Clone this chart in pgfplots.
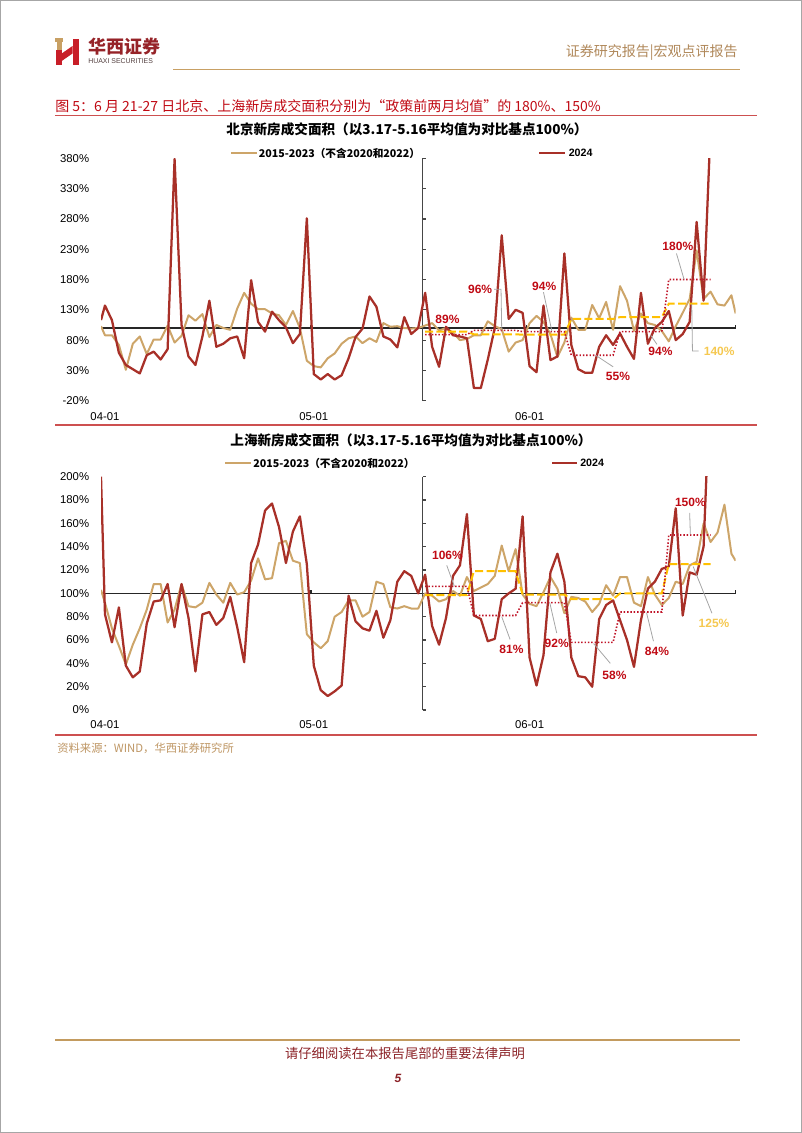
\documentclass[border=0pt]{standalone}
\usepackage{fontspec}
\usepackage{pgfplots}
\pgfplotsset{compat=1.18}
\setmainfont{Liberation Sans}
\newfontfamily\cjk{Noto Sans CJK SC}

\definecolor{cRed}{RGB}{168,48,40}
\definecolor{cTan}{RGB}{205,165,105}
\definecolor{cGold}{RGB}{255,192,0}
\definecolor{cDot}{RGB}{192,20,40}
\definecolor{cLab}{RGB}{192,10,20}
\definecolor{cLabY}{RGB}{245,200,80}
\definecolor{cLead}{RGB}{165,165,165}
\definecolor{cHead}{RGB}{176,136,90}
\definecolor{cLine}{RGB}{200,160,100}
\definecolor{cSep}{RGB}{205,80,80}
\definecolor{cFoot}{RGB}{140,35,40}
\definecolor{cLogo}{RGB}{200,30,40}
\definecolor{cAx}{RGB}{70,70,70}
\definecolor{cBrand}{RGB}{150,35,40}
\definecolor{cHx}{RGB}{80,60,60}
\definecolor{cSrc}{RGB}{190,150,100}
\definecolor{cFootLine}{RGB}{195,155,95}

\tikzset{
  tanline/.style={draw=cTan, line width=1.5pt, line join=round},
  redline/.style={draw=cRed, line width=1.7pt, line join=round},
  dotline/.style={draw=cDot, line width=1.2pt, dash pattern=on 1.1pt off 1.4pt},
  dashline/.style={draw=cGold, line width=1.5pt, dash pattern=on 6pt off 2.5pt},
  lab/.style={font=\fontsize{9}{10}\selectfont\bfseries, text=cLab, inner sep=0pt},
  labY/.style={font=\fontsize{9}{10}\selectfont\bfseries, text=cLabY, inner sep=0pt},
  lead/.style={draw=cLead, line width=0.6pt},
}
\pgfplotsset{
  chartbase/.style={
    scale only axis, width=475.95pt, xmin=-0.57, xmax=90.6,
    axis line style={draw=none}, major tick length=0pt,
    xtick={0,30,61}, xticklabels={04-01,05-01,06-01},
    ticklabel style={font=\fontsize{8.5}{10}\selectfont},
    /pgf/number format/assume math mode=true,
    clip mode=individual,
    yticklabel={\pgfmathprintnumber{\tick}\%},
    yticklabel style={xshift=-5.4pt},
  },
}

\begin{document}
\begin{tikzpicture}
\path[use as bounding box] (0,0) rectangle (601.5pt,-849.75pt);
\begin{scope}[x=0.75pt,y=-0.75pt, every node/.style={inner sep=0pt}]
  % page frame
  \draw[gray!70, line width=0.8pt] (0.6,0.6) rectangle (801.4,1132.4);
  % logo
  \fill[cLine] (55,38) rectangle (63,41.5);
  \fill[cLine] (57,41.5) rectangle (61.5,50);
  \fill[cLogo] (56,50) rectangle (62,65);
  \fill[cLogo] (72.5,39) rectangle (79,65);
  \fill[cLogo] (61,54) -- (72.5,46) -- (72.5,53.5) -- (61,61.5) -- cycle;
  \node[anchor=west, text=cBrand] at (88,47) {\cjk\bfseries\fontsize{13.5}{15}\selectfont 华西证券};
  \node[anchor=west, text=cHx] at (88,61.5) {\fontsize{5.2}{6}\selectfont HUAXI SECURITIES};
  \node[anchor=east, text=cHead] at (738,53) {\cjk\fontsize{10.5}{12}\selectfont 证券研究报告|宏观点评报告};
  \draw[cLine, line width=1.3pt] (173,69.5) -- (740,69.5);
  % figure title
  \node[anchor=west, text=cLab] at (55,106.5) {\cjk\fontsize{10.5}{12}\selectfont 图 5：6 月 21-27 日北京、上海新房成交面积分别为“政策前两月均值”的 180\%、150\%};
  \draw[cSep, line width=0.8pt] (55,115.7) -- (757,115.7);
  % chart 1 title & legend
  \node at (407,129) {\cjk\bfseries\fontsize{10.2}{12}\selectfont 北京新房成交面积（以3.17-5.16平均值为对比基点100\%）};
  \draw[cTan, line width=1.5pt] (231,153.3) -- (257,153.3);
  \node[anchor=west] at (258.5,153.3) {\cjk\bfseries\fontsize{8}{9}\selectfont 2015-2023（不含2020和2022）};
  \draw[cRed, line width=1.7pt] (539,153.3) -- (565,153.3);
  \node[anchor=west] at (568.5,153.3) {\bfseries\fontsize{8}{9}\selectfont 2024};
  % separator
  \draw[cSep, line width=0.8pt] (55,425) -- (757,425);
  % chart 2 title & legend
  \node at (411,440.7) {\cjk\bfseries\fontsize{10.2}{12}\selectfont 上海新房成交面积（以3.17-5.16平均值为对比基点100\%）};
  \draw[cTan, line width=1.5pt] (225,463) -- (251,463);
  \node[anchor=west] at (253,463) {\cjk\bfseries\fontsize{8}{9}\selectfont 2015-2023（不含2020和2022）};
  \draw[cRed, line width=1.7pt] (552,463) -- (577,463);
  \node[anchor=west] at (580,463) {\bfseries\fontsize{8}{9}\selectfont 2024};
  % bottom separator & source
  \draw[cSep, line width=0.8pt] (55,735) -- (757,735);
  \node[anchor=west, text=cSrc] at (57,748.5) {\cjk\fontsize{8.5}{10}\selectfont 资料来源：WIND，华西证券研究所};
  % footer
  \draw[cFootLine, line width=2pt] (55,1040) -- (740,1040);
  \node[text=cFoot] at (405,1053) {\cjk\fontsize{10}{12}\selectfont 请仔细阅读在本报告尾部的重要法律声明};
  \node[text=cFoot] at (398,1078) {\bfseries\itshape\fontsize{9}{10}\selectfont 5};
\end{scope}

% ================= Beijing =================
\begin{axis}[chartbase, at={(75.75pt,-300.525pt)}, anchor=south west,
  height=181.8pt, ymin=-20, ymax=380, ytick={-20,30,...,380},
  xticklabel style={yshift=-5.6pt}]
\draw[black!85, line width=0.8pt] (axis cs:-0.57,100) -- (axis cs:90.6,100);
\draw[black!85, line width=0.8pt] (axis cs:29.6,100) -- ++(0pt,2.2pt);
\draw[black!85, line width=0.8pt] (axis cs:60.6,100) -- ++(0pt,2.2pt);
\draw[black!85, line width=0.8pt] (axis cs:90.6,100) -- ++(0pt,2.2pt);
\draw[cAx, line width=1pt] (axis cs:45.65,-20) -- (axis cs:45.65,380);
\pgfplotsinvokeforeach{-20,30,80,130,180,230,280,330,380}{
  \draw[cAx, line width=0.9pt] (axis cs:45.65,#1) -- ++(2.2pt,0pt);}
\addplot[tanline] coordinates {(-0.57,103)(0,88)(1,88)(2,72)(3,31)(4,74)(5,86)(6,57)(7,81)(8,81)(9,104)(10,76)(11,87)(12,121)(13,112)(14,123)(15,85)(16,105)(17,100)(18,97)(19,132)(20,158)(21,140)(22,131)(23,131)(24,124)(25,121)(26,105)(27,128)(28,100)(29,46)(30,37)(31,35)(32,50)(33,58)(34,74)(35,83)(36,86)(37,75)(38,83)(39,77)(40,108)(41,102)(42,103)(43,100)(44,99)(45,100)(46,104)(47,108)(48,96)(49,100)(50,92)(51,80)(52,82)(53,88)(54,88)(55,111)(56,103)(57,98)(58,61)(59,76)(60,80)(61,108)(62,120)(63,110)(64,90)(65,52)(66,76)(67,117)(68,97)(69,97)(70,138)(71,116)(72,143)(73,97)(74,169)(75,145)(76,95)(77,124)(78,108)(79,105)(80,95)(81,78)(82,103)(83,125)(84,148)(85,228)(86,148)(87,160)(88,139)(89,137)(90,154)(90.6,124)};
\addplot[redline] coordinates {(-0.57,113)(0,137)(1,113)(2,59)(3,39)(4,32)(5,25)(6,55)(7,61)(8,48)(9,65)(10,379)(11,105)(12,53)(13,39)(14,86)(15,145)(16,69)(17,74)(18,83)(19,86)(20,50)(21,179)(22,110)(23,94)(24,127)(25,113)(26,101)(27,75)(28,90)(29,281)(30,24)(31,15)(32,24)(33,15)(34,22)(35,50)(36,85)(37,99)(38,152)(39,135)(40,86)(41,81)(42,68)(43,118)(44,90)(45,100)(46,158)(47,69)(48,36)(49,102)(50,88)(51,86)(52,83)(53,1)(54,1)(55,48)(56,100)(57,253)(58,115)(59,130)(60,125)(61,37)(62,27)(63,137)(64,47)(65,53)(66,223)(67,72)(68,32)(69,26)(70,26)(71,69)(72,88)(73,72)(74,91)(75,69)(76,49)(77,158)(78,74)(79,100)(80,110)(81,128)(82,80)(83,90)(84,110)(85,275)(86,145)(87,430)};
\addplot[dashline] coordinates {(46,94)(52,94)(53,89.5)(59,89.5)(60,89)(66,89)(67,115)(73,115)(74,118)(80,118)(81,140)(87,140)};
\addplot[dotline] coordinates {(46,89)(52,89)(53,96)(59,96)(60,94)(66,94)(67,55)(73,55)(74,94)(80,94)(81,180)(87,180)};
% labels
\node[lab] at (axis cs:49.2,115) {89\%};
\node[lab] at (axis cs:53.9,164) {96\%};
\draw[lead] (axis cs:55.9,164) -- (axis cs:56.9,164) -- (axis cs:57.0,96);
\node[lab] at (axis cs:63.1,169) {94\%};
\draw[lead] (axis cs:63.0,159) -- (axis cs:64.2,95);
\node[lab] at (axis cs:73.7,20) {55\%};
\draw[lead] (axis cs:70.5,55) -- (axis cs:73.0,36);
\node[lab] at (axis cs:79.8,62) {94\%};
\draw[lead] (axis cs:78.4,88) -- (axis cs:79.3,73);
\node[lab] at (axis cs:82.3,234) {180\%};
\draw[lead] (axis cs:82.1,223) -- (axis cs:83.2,180);
\node[labY, anchor=west] at (axis cs:86.0,62) {140\%};
\draw[lead] (axis cs:84.3,140) -- (axis cs:84.4,62) -- (axis cs:85.3,62);
\end{axis}

% ================= Shanghai =================
\begin{axis}[chartbase, at={(75.75pt,-532.5pt)}, anchor=south west,
  height=174.975pt, ymin=0, ymax=200, ytick={0,20,...,200},
  xticklabel style={yshift=-4.1pt}]
\draw[black!85, line width=0.8pt] (axis cs:-0.57,100) -- (axis cs:90.6,100);
\draw[black!85, line width=0.8pt] (axis cs:29.6,100) -- ++(0pt,2.2pt);
\draw[black!85, line width=0.8pt] (axis cs:60.6,100) -- ++(0pt,2.2pt);
\draw[black!85, line width=0.8pt] (axis cs:90.6,100) -- ++(0pt,2.2pt);
\draw[cAx, line width=1pt] (axis cs:45.65,0) -- (axis cs:45.65,200);
\pgfplotsinvokeforeach{0,20,40,60,80,100,120,140,160,180,200}{
  \draw[cAx, line width=0.9pt] (axis cs:45.65,#1) -- ++(2.2pt,0pt);}
\addplot[tanline] coordinates {(-0.57,103)(0,92)(1,70)(2,55)(3,39)(4,56)(5,70)(6,86)(7,108)(8,108)(9,75)(10,86)(11,108)(12,89)(13,88)(14,92)(15,109)(16,99)(17,92)(18,109)(19,99)(20,101)(21,111)(22,130)(23,112)(24,113)(25,143)(26,145)(27,128)(28,126)(29,65)(30,58)(31,53)(32,59)(33,80)(34,84)(35,94)(36,94)(37,80)(38,84)(39,110)(40,108)(41,88)(42,87)(43,89)(44,87)(45,87)(46,100)(47,98)(48,93)(49,95)(50,102)(51,98)(52,114)(53,102)(54,105)(55,108)(56,115)(57,141)(58,119)(59,138)(60,99)(61,91)(62,89)(63,101)(64,114)(65,104)(66,83)(67,97)(68,96)(69,93)(70,84)(71,91)(72,107)(73,98)(74,114)(75,114)(76,92)(77,89)(78,114)(79,99)(80,90)(81,96)(82,110)(83,108)(84,124)(85,127)(86,160)(87,144)(88,152)(89,176)(90,134)(90.6,128)};
\addplot[redline] coordinates {(-0.57,200)(0,82)(1,58)(2,88)(3,38)(4,28)(5,33)(6,74)(7,93)(8,94)(9,108)(10,71)(11,108)(12,79)(13,33)(14,82)(15,84)(16,73)(17,79)(18,97)(19,71)(20,41)(21,126)(22,142)(23,171)(24,177)(25,157)(26,126)(27,153)(28,166)(29,125)(30,38)(31,17)(32,12)(33,16)(34,21)(35,98)(36,76)(37,70)(38,68)(39,85)(40,62)(41,77)(42,110)(43,119)(44,115)(45,100)(46,116)(47,72)(48,56)(49,79)(50,115)(51,124)(52,168)(53,81)(54,78)(55,59)(56,61)(57,95)(58,100)(59,104)(60,166)(61,45)(62,21)(63,47)(64,118)(65,134)(66,110)(67,45)(68,29)(69,28)(70,20)(71,78)(72,90)(73,94)(74,77)(75,60)(76,37)(77,77)(78,104)(79,110)(80,121)(81,123)(82,173)(83,81)(84,118)(85,116)(86,140)(87,290)};
\addplot[dashline] coordinates {(46,98.5)(52,98.5)(53,119)(59,119)(60,99)(66,99)(67,95)(73,95)(74,100)(80,100)(81,125)(87,125)};
\addplot[dotline] coordinates {(46,106)(52,106)(53,81)(59,81)(60,92)(66,92)(67,58)(73,58)(74,84)(80,84)(81,150)(87,150)};
% labels
\node[lab] at (axis cs:49.2,132.6) {106\%};
\draw[lead] (axis cs:49.1,124) -- (axis cs:50.2,106);
\node[lab] at (axis cs:58.4,52) {81\%};
\draw[lead] (axis cs:57.0,80) -- (axis cs:58.2,60.5);
\node[lab] at (axis cs:64.9,57) {92\%};
\draw[lead] (axis cs:63.9,92) -- (axis cs:64.9,66);
\node[lab] at (axis cs:73.2,29.7) {58\%};
\draw[lead] (axis cs:70.2,57) -- (axis cs:72.6,40);
\node[lab] at (axis cs:79.3,50.6) {84\%};
\draw[lead] (axis cs:77.8,83.5) -- (axis cs:78.8,59);
\node[lab] at (axis cs:84.1,178) {150\%};
\draw[lead] (axis cs:84.0,169) -- (axis cs:84.1,150.5);
\node[labY] at (axis cs:87.5,74) {125\%};
\draw[lead] (axis cs:84.5,123) -- (axis cs:87.2,83);
\end{axis}
\end{tikzpicture}
\end{document}
